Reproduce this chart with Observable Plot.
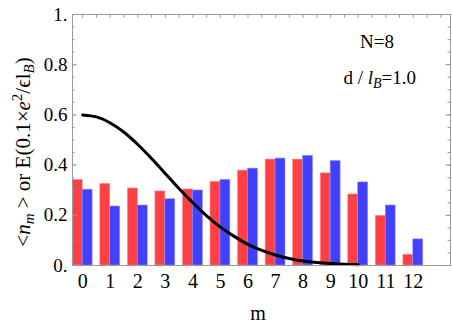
<!DOCTYPE html>
<html><head><meta charset="utf-8">
<script src="https://cdn.jsdelivr.net/npm/d3@7"></script>
<script src="https://cdn.jsdelivr.net/npm/@observablehq/plot@0.6"></script>
<style>body{margin:0;background:#fff} svg text{font-family:"Liberation Serif",serif !important;}</style>
</head><body><div id="chart"></div>
<script>
const ms = [0,1,2,3,4,5,6,7,8,9,10,11,12];
const redVals = [0.341,0.325,0.307,0.295,0.303,0.333,0.378,0.422,0.422,0.367,0.283,0.198,0.043];
const blueVals = [0.302,0.235,0.239,0.264,0.299,0.341,0.386,0.426,0.437,0.416,0.331,0.239,0.104];
const curveM = [0,0.5,1,1.5,2,2.5,3,3.5,4,4.5,5,5.5,6,6.5,7,7.5,8,8.5,9,9.5,10];
const curveV = [0.600,0.592,0.568,0.531,0.482,0.426,0.366,0.306,0.250,0.198,0.153,0.116,0.084,0.060,0.042,0.028,0.018,0.012,0.008,0.005,0.003];
const yTicks = [0,0.2,0.4,0.6,0.8,1];
const yTickLabels = ["0.","0.2","0.4","0.6","0.8","1."];
const yMinor = d3.range(0,1.0001,0.05).map(v=>+v.toFixed(2));
const topTicks = d3.range(0,13.5,0.5);

const xMin = -0.37, xMax = 13.35, half = 0.36;
const bars = ms.map((m,i)=>({m, red: redVals[i], blue: blueVals[i]}));
const curve = curveM.map((m,i)=>({m, v: curveV[i]}));
const font = "Liberation Serif";
const gray = "#9a9a9a";

const plot = Plot.plot({
  width: 452, height: 328,
  marginLeft: 72, marginRight: 2, marginTop: 14, marginBottom: 63,
  style: {background: "#fff"},
  x: {domain: [xMin, xMax], axis: null},
  y: {domain: [0, 1], axis: null},
  marks: [
    Plot.rectY(bars, {x1: d=>d.m-half, x2: d=>d.m, y: "red", fill: "#fe4045", stroke: "#ff8a8d", strokeWidth: 0.6}),
    Plot.rectY(bars, {x1: d=>d.m, x2: d=>d.m+half, y: "blue", fill: "#4040fd", stroke: "#8a8aff", strokeWidth: 0.6}),
    Plot.line(curve, {x: "m", y: "v", stroke: "black", strokeWidth: 3, curve: "natural"}),
    Plot.frame({stroke: gray}),
    Plot.ruleY(yMinor, {x1: xMin, x2: xMin + 0.09, stroke: gray}),
    Plot.ruleY(yTicks, {x1: xMin, x2: xMin + 0.17, stroke: gray}),
    Plot.ruleY(yMinor, {x1: xMax, x2: xMax - 0.09, stroke: gray}),
    Plot.ruleY(yTicks, {x1: xMax, x2: xMax - 0.17, stroke: gray}),
    Plot.ruleX(topTicks, {y1: 1, y2: 0.985, stroke: gray}),
    Plot.text(yTicks, {x: xMin, y: d=>d, text: (d,i)=>yTickLabels[i], textAnchor: "end", dx: -5, fontSize: 19, fontFamily: font, fill: "black"}),
    Plot.text(ms, {x: d=>d, y: 0, text: d=>String(d), dy: 16, fontSize: 20, fontFamily: font, fill: "black"})
  ]
});
document.getElementById("chart").appendChild(plot);

const svg = d3.select(plot);
const xs = plot.scale("x");
svg.append("text").attr("x", 258).attr("y", 320).attr("text-anchor","middle")
  .attr("font-size", 20).attr("fill","black").text("m");
const yl = svg.append("text").attr("transform","translate(30,152) rotate(-90)")
  .attr("text-anchor","middle").attr("font-size", 21).attr("fill","black");
yl.append("tspan").text("<");
yl.append("tspan").attr("font-style","italic").text("n");
yl.append("tspan").attr("font-style","italic").attr("font-size",15).attr("dy",4).text("m");
yl.append("tspan").attr("dy",-4).text(" > or E(0.1×");
yl.append("tspan").attr("font-style","italic").text("e");
yl.append("tspan").attr("font-size",15).attr("dy",-8).text("2");
yl.append("tspan").attr("dy",8).text("/ϵ");
yl.append("tspan").text("l");
yl.append("tspan").attr("font-style","italic").attr("font-size",15).attr("dy",4).text("B");
yl.append("tspan").attr("dy",-4).text(")");
svg.append("text").attr("x", xs.apply(10.7)).attr("y", 48).attr("text-anchor","middle")
  .attr("font-size", 19).attr("fill","black").text("N=8");
const a2 = svg.append("text").attr("x", xs.apply(10.8)).attr("y", 84).attr("text-anchor","middle")
  .attr("font-size", 19).attr("fill","black");
a2.append("tspan").text("d / ");
a2.append("tspan").attr("font-style","italic").text("l");
a2.append("tspan").attr("font-style","italic").attr("font-size",14).attr("dy",4).text("B");
a2.append("tspan").attr("dy",-4).text("=1.0");
</script></body></html>
